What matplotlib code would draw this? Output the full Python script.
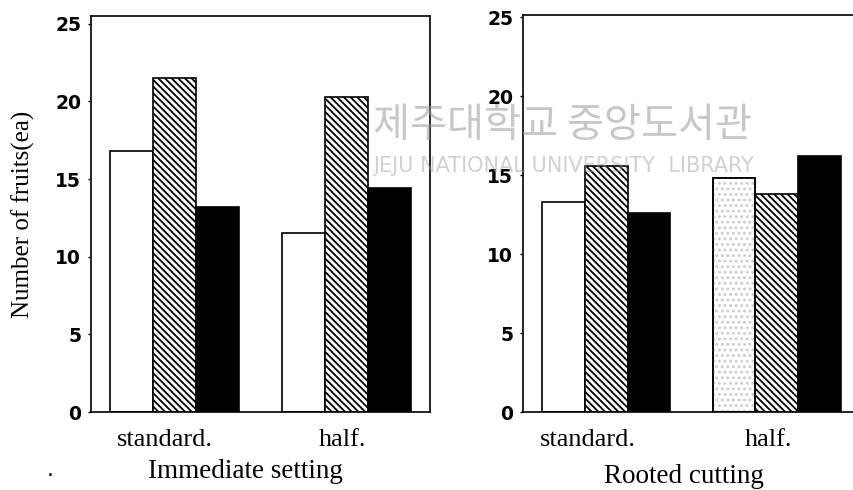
import numpy as np
import matplotlib.pyplot as plt

plt.rcParams['hatch.linewidth'] = 1.3

# data (number of fruits per treatment)
groups = ['standard.', 'half.']
panel_titles = ['Immediate setting', 'Rooted cutting']
immediate_white = [16.8, 11.5]
immediate_hatch = [21.5, 20.3]
immediate_black = [13.2, 14.4]
rooted_white = [13.3, 14.8]
rooted_hatch = [15.6, 13.8]
rooted_black = [12.6, 16.2]
yticks = [0, 5, 10, 15, 20, 25]

fig = plt.figure(figsize=(8.54, 4.90), dpi=100)
ax1 = fig.add_axes([91/854, 1-412/490, 339/854, 396/490])
ax2 = fig.add_axes([523/854, 1-412/490, 337/854, 397/490])

x = np.array([0, 4])
serif = 'Liberation Serif'


def draw(ax, white, hatch, black, stipple, ytop, tickpos):
    ax.bar(x - 1, white, 1, color='white', edgecolor='black', lw=1.2, zorder=2)
    if stipple:
        # faint stippled fill on the second white bar
        ax.bar(x[1:] - 1, white[1:], 1, color='none', edgecolor='#cccccc',
               hatch='...', lw=0, zorder=2.5)
        ax.bar(x[1:] - 1, white[1:], 1, color='none', edgecolor='black', lw=1.2, zorder=2.6)
    ax.bar(x, hatch, 1, color='white', edgecolor='black', hatch='\\\\\\\\\\', lw=1.2, zorder=2)
    ax.bar(x + 1, black, 1, color='black', edgecolor='black', lw=1.2, zorder=2)
    ax.set_xlim(-1.95, 5.95)
    ax.set_ylim(0, ytop)
    ax.set_yticks(yticks)
    ax.set_yticklabels([str(v) for v in yticks], fontfamily='DejaVu Sans',
                       fontweight='bold', fontsize=13.5)
    ax.set_xticks(tickpos)
    ax.set_xticklabels(groups, fontfamily=serif, fontsize=19)
    ax.tick_params(axis='x', length=0, pad=12)
    ax.tick_params(axis='y', length=2, width=1, direction='out', pad=5)
    for s in ax.spines.values():
        s.set_linewidth(1.2)


draw(ax1, immediate_white, immediate_hatch, immediate_black, False, 25.5, [-0.23, 3.92])
ax1.set_xlabel(panel_titles[0], fontfamily=serif, fontsize=19.5, va='top')
ax1.xaxis.set_label_coords(0.457, -0.118)
ax1.set_ylabel('Number of fruits(ea)', fontfamily=serif, fontsize=18)
ax1.yaxis.set_label_coords(-0.165, 0.5)

draw(ax2, rooted_white, rooted_hatch, rooted_black, True, 25.15, [-0.42, 3.81])
ax2.set_xlabel(panel_titles[1], fontfamily=serif, fontsize=19.5, va='top')
ax2.xaxis.set_label_coords(0.478, -0.132)

fig.text(50/854, 1-470/490, '.', fontsize=16, ha='center', va='center')

# library watermark
fig.text(563/854, 1-126/490, '제주대학교 중앙도서관', fontfamily='Noto Sans CJK KR',
         fontsize=29, color='#9a9a9a', alpha=0.55, ha='center', va='center', zorder=10)
fig.text(564/854, 1-166/490, 'JEJU NATIONAL UNIVERSITY  LIBRARY', fontfamily='DejaVu Sans',
         fontsize=15, color='#9a9a9a', alpha=0.45,
         ha='center', va='center', zorder=10)

fig.savefig('out.png', dpi=100)
